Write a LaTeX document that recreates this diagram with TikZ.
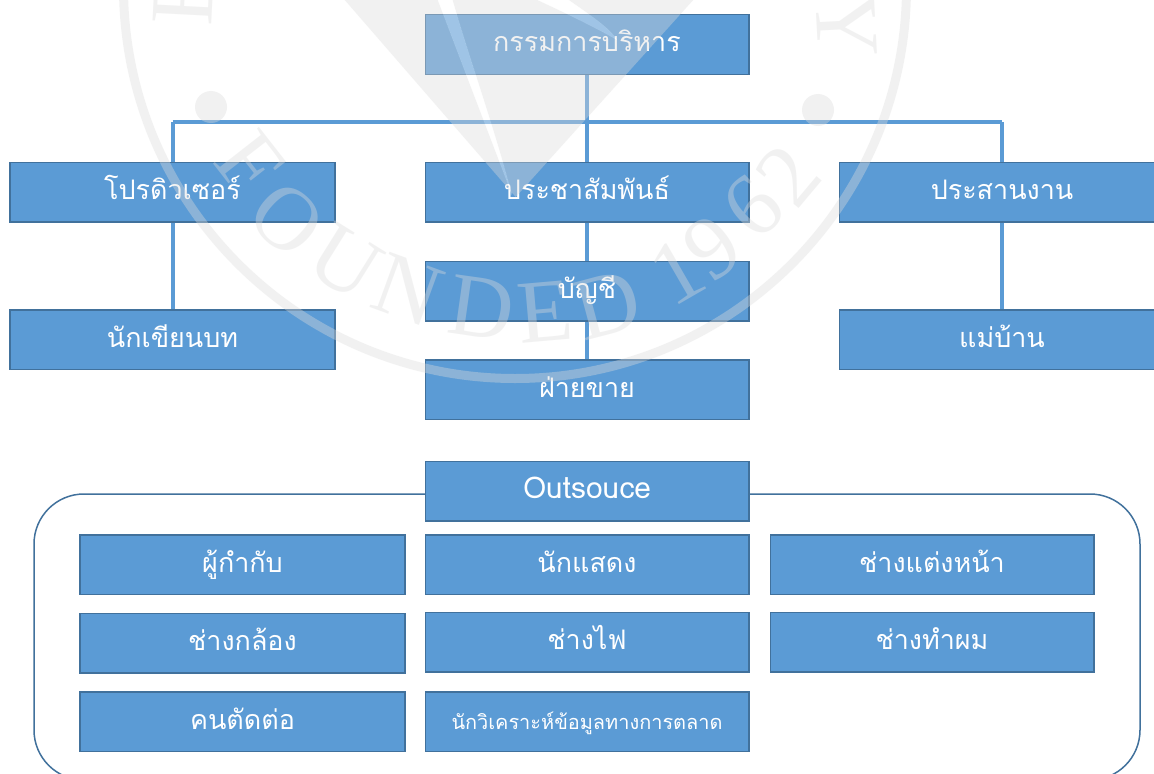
\documentclass[tikz,border=0pt]{standalone}
\usepackage{fontspec}
\newfontfamily\thaifont[Script=Thai]{Loma}
\setmainfont{Liberation Serif}
\definecolor{bfill}{HTML}{5B9BD5}
\definecolor{bline}{HTML}{41719C}
\definecolor{wm}{HTML}{DCDCDC}
\tikzset{
  bx/.style={draw=bline,line width=1.5bp,fill=bfill,text=white,inner sep=0pt,minimum width=323.5bp,minimum height=59.5bp,text height=19bp,text depth=4bp,font=\thaifont\fontsize{27}{30}\selectfont},
  lnk/.style={bfill,line width=4bp},
  bus/.style={bfill,line width=4.5bp},
  wmark/.style={fill=wm,draw=none,opacity=.38},
  wmhole/.style={fill=white,draw=none,opacity=.42},
  wmring/.style={draw=wm,line width=9bp,opacity=.38},
  wmletter/.style={text=wm,text opacity=.38,inner sep=0pt,font=\fontsize{90}{95}\selectfont}
}
\begin{document}
\begin{tikzpicture}[x=1bp,y=-1bp]
\useasboundingbox (0,0) rectangle (1154,774);
\clip (0,0) rectangle (1154,774);
\fill[white] (0,0) rectangle (1154,774);
% frame
\draw[bline,line width=1.5bp,rounded corners=50bp] (34,494) rectangle (1140,780);
% free ends of the bus
\coordinate (busL) at (172.5,122);
\coordinate (busR) at (1002,122);
% connectors
\draw[bus] (busL) -- (busR);
% nodes
\node[bx] (top) at (587,44.5) {กรรมการบริหาร};
\node[bx,minimum width=324.5bp] (prod) at (172.5,192) {โปรดิวเซอร์};
\node[bx] (pr) at (587,192) {ประชาสัมพันธ์};
\node[bx,minimum width=325bp] (coord) at (1002,192) {ประสานงาน};
\node[bx,minimum width=324.5bp] (writer) at (172.5,339.5) {นักเขียนบท};
\node[bx] (acc) at (587,291) {บัญชี};
\node[bx,minimum width=325bp] (maid) at (1002,339.5) {แม่บ้าน};
\node[bx] (sale) at (587,389.5) {ฝ่ายขาย};
\node[bx,font=\thaifont\fontsize{30}{33}\selectfont] (out) at (587,491) {Outsouce};
\node[bx,minimum width=324.5bp] (dir) at (242.5,564.5) {ผู้กำกับ};
\node[bx] (act) at (587,564.5) {นักแสดง};
\node[bx] (mua) at (932,564.5) {ช่างแต่งหน้า};
\node[bx,minimum width=324.5bp] (cam) at (242.5,643) {ช่างกล้อง};
\node[bx] (light) at (587,642) {ช่างไฟ};
\node[bx] (hair) at (932,642) {ช่างทำผม};
\node[bx,minimum width=324.5bp] (edit) at (242.5,721.5) {คนตัดต่อ};
\node[bx,font=\thaifont\fontsize{20}{24}\selectfont] (ana) at (587,721.5) {นักวิเคราะห์ข้อมูลทางการตลาด};
\draw[lnk] (top.south) -- (pr.north);
\draw[lnk] (busL) -- (prod.north);
\draw[lnk] (busR) -- (coord.north);
\draw[lnk] (prod.south) -- (writer.north);
\draw[lnk] (coord.south) -- (maid.north);
\draw[lnk] (pr.south) -- (acc.north);
\draw[lnk] (acc.south) -- (sale.north);
% watermark
\coordinate (wc) at (515,-13);
\draw[wmring] (wc) circle[radius=391.5bp];
\fill[wmark,even odd rule] (343,-2) -- (515.7,197) -- (695,-2) -- cycle
  (437,-2) .. controls (470,85) and (495,150) .. (512,195) .. controls (495,130) and (470,60) .. (452,-2) -- cycle
  (533,-2) .. controls (570,15) and (600,30) .. (617,40) .. controls (610,28) and (590,15) .. (566,-2) -- cycle;
\fill[wmhole] (437,-2) .. controls (470,85) and (495,150) .. (512,195) .. controls (495,130) and (470,60) .. (452,-2) -- cycle
  (533,-2) .. controls (570,15) and (600,30) .. (617,40) .. controls (610,28) and (590,15) .. (566,-2) -- cycle;
\fill[wmark] (211,107) circle[radius=16bp];
\fill[wmark] (818,110) circle[radius=16bp];
\foreach \ch/\rot/\px/\py [count=\i] in {F/-52/250/163,O/-42/287/219,U/-32/345/262,N/-20/408/290,D/-8/482/308,E/5/545/312,D/15/607/305,1/30/677/272,9/36/712/248,6/43/753/207,2/50/788/175}{
  \node[wmletter,rotate=\rot] (wl\i) at (\px,\py) {\ch};
}
\node[wmletter,rotate=87] (wlE) at (184,-2) {E};
\node[wmletter,rotate=-87] (wlY) at (847,25) {Y};
\end{tikzpicture}
\end{document}
